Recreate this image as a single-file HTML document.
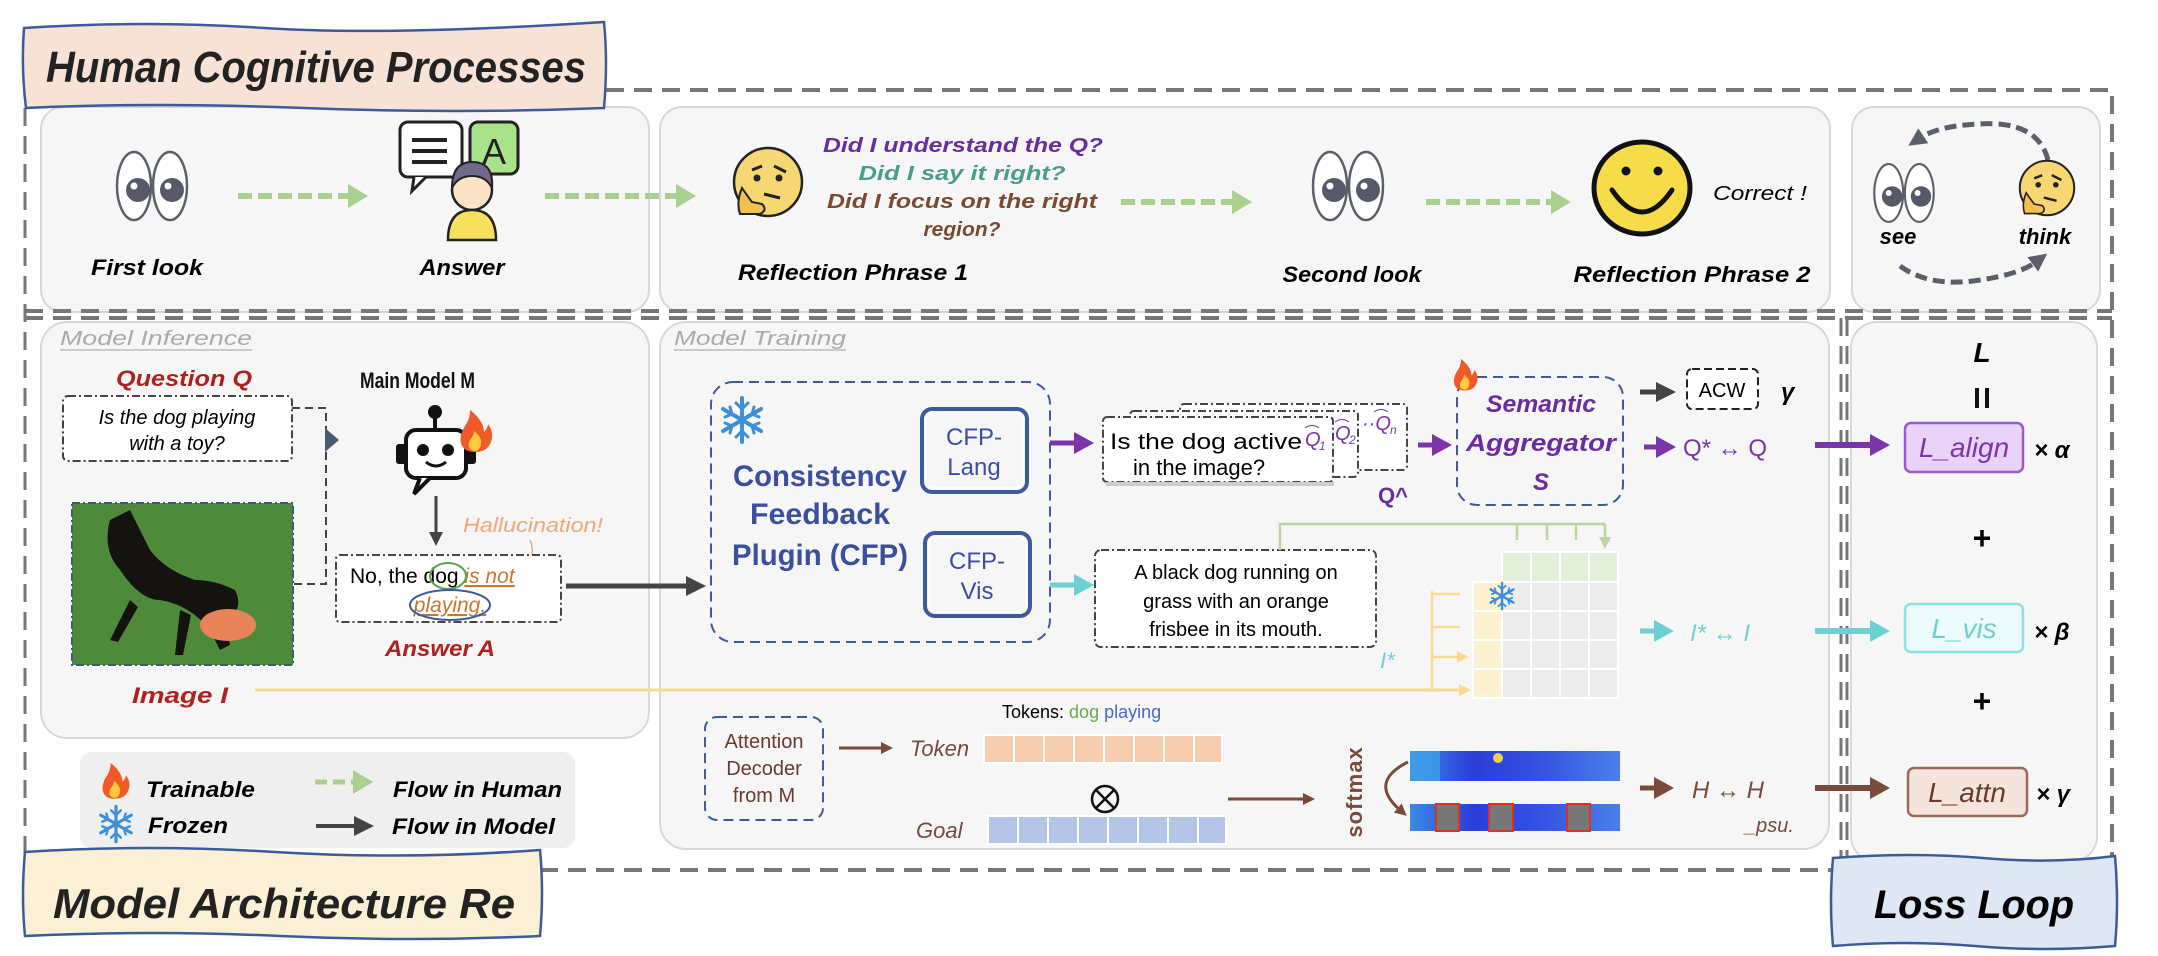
<!DOCTYPE html>
<html><head><meta charset="utf-8"><style>
html,body{margin:0;padding:0;background:#fff}
svg{display:block}
text{font-family:"Liberation Sans",sans-serif}
.h{font-weight:bold;font-style:italic}
</style></head><body>
<svg width="2158" height="956" viewBox="0 0 2158 956" xmlns="http://www.w3.org/2000/svg">
<defs>
<marker id="ag" markerWidth="20" markerHeight="24" refX="4" refY="12" orient="auto" markerUnits="userSpaceOnUse"><path d="M0,0 L20,12 L0,24 z" fill="#a9d08e"/></marker>
<marker id="ak" markerWidth="20" markerHeight="20" refX="6" refY="10" orient="auto" markerUnits="userSpaceOnUse"><path d="M0,0 L20,10 L0,20 z" fill="#444"/></marker>
<marker id="aks" markerWidth="14" markerHeight="14" refX="4" refY="7" orient="auto" markerUnits="userSpaceOnUse"><path d="M0,0 L14,7 L0,14 z" fill="#444"/></marker>
<marker id="ap" markerWidth="20" markerHeight="22" refX="6" refY="11" orient="auto" markerUnits="userSpaceOnUse"><path d="M0,0 L20,11 L0,22 z" fill="#7b35a8"/></marker>
<marker id="ac" markerWidth="20" markerHeight="22" refX="6" refY="11" orient="auto" markerUnits="userSpaceOnUse"><path d="M0,0 L20,11 L0,22 z" fill="#6fd0d4"/></marker>
<marker id="ab" markerWidth="20" markerHeight="22" refX="6" refY="11" orient="auto" markerUnits="userSpaceOnUse"><path d="M0,0 L20,11 L0,22 z" fill="#7a4a3a"/></marker>
<marker id="abs" markerWidth="12" markerHeight="12" refX="3" refY="6" orient="auto" markerUnits="userSpaceOnUse"><path d="M0,0 L12,6 L0,12 z" fill="#7a4a3a"/></marker>
<marker id="ay" markerWidth="12" markerHeight="12" refX="3" refY="6" orient="auto" markerUnits="userSpaceOnUse"><path d="M0,0 L12,6 L0,12 z" fill="#f7dc8f"/></marker>
<marker id="agr" markerWidth="12" markerHeight="12" refX="3" refY="6" orient="auto" markerUnits="userSpaceOnUse"><path d="M0,0 L12,6 L0,12 z" fill="#b9d6a0"/></marker>
<marker id="ad" markerWidth="18" markerHeight="18" refX="4" refY="9" orient="auto" markerUnits="userSpaceOnUse"><path d="M0,0 L18,9 L0,18 z" fill="#5a5f6a"/></marker>
<g id="eyes">
<ellipse cx="-18" cy="0" rx="17" ry="34" fill="#fff" stroke="#5a5f6a" stroke-width="2.5"/>
<ellipse cx="18" cy="0" rx="17" ry="34" fill="#fff" stroke="#5a5f6a" stroke-width="2.5"/>
<circle cx="-14" cy="4" r="12" fill="#55596a"/><circle cx="20" cy="4" r="12" fill="#55596a"/>
<circle cx="-18" cy="0" r="3.5" fill="#fff"/><circle cx="16" cy="0" r="3.5" fill="#fff"/>
</g>
<g id="think">
<circle cx="0" cy="0" r="34" fill="#f7d774" stroke="#222" stroke-width="2.5"/>
<path d="M-16,-12 l10,-4 M6,-16 l12,6" stroke="#222" stroke-width="3"/>
<circle cx="-11" cy="-4" r="3.5" fill="#222"/><circle cx="11" cy="-4" r="3.5" fill="#222"/>
<path d="M-4,12 l16,4" stroke="#222" stroke-width="3"/>
<path d="M-26,6 q-6,14 -2,26 l20,0 q8,-4 2,-10 l-10,-2 q-6,-8 -10,-14z" fill="#f2c14e" stroke="#222" stroke-width="2"/>
</g>
<g id="fire">
<path d="M0,22 c-12,0 -16,-10 -12,-20 c3,-8 8,-10 8,-22 c8,6 14,14 14,22 c3,-3 4,-6 4,-8 c4,6 6,12 2,20 c-3,6 -8,8 -16,8z" fill="#f05a28"/>
<path d="M1,21 c-6,0 -8,-6 -5,-11 c2,-3 4,-5 4,-9 c5,4 8,8 7,13 c-1,5 -3,7 -6,7z" fill="#ffc93c"/>
</g>
<g id="snow" stroke="#3d8fd6" stroke-width="4" stroke-linecap="round" fill="none">
<path d="M0,-22 V22 M-19,-11 L19,11 M-19,11 L19,-11"/>
<path d="M-6,-17 L0,-11 L6,-17 M-6,17 L0,11 L6,17 M-17,-3 L-10,-6 L-12,-13 M17,3 L10,6 L12,13 M-17,3 L-10,6 L-12,13 M17,-3 L10,-6 L12,-13" stroke-width="3"/>
</g>
</defs>

<path d="M606,90 H2112 V878" fill="none" stroke="#777" stroke-width="4" stroke-dasharray="18,10"/>
<path d="M25,108 V868" fill="none" stroke="#777" stroke-width="3" stroke-dasharray="18,10"/>
<path d="M540,870 H1835" fill="none" stroke="#777" stroke-width="4" stroke-dasharray="18,10"/>

<rect x="41" y="107" width="608" height="205" rx="22" fill="#f6f6f6" stroke="#d8d8d8" stroke-width="2"/>
<rect x="660" y="107" width="1170" height="205" rx="22" fill="#f6f6f6" stroke="#d8d8d8" stroke-width="2"/>
<rect x="1852" y="107" width="248" height="205" rx="22" fill="#f6f6f6" stroke="#d8d8d8" stroke-width="2"/>
<rect x="41" y="322" width="608" height="416" rx="26" fill="#f6f6f6" stroke="#d8d8d8" stroke-width="2"/>
<rect x="660" y="322" width="1169" height="527" rx="26" fill="#f6f6f6" stroke="#d8d8d8" stroke-width="2"/>
<rect x="1851" y="322" width="246" height="540" rx="26" fill="#f6f6f6" stroke="#d8d8d8" stroke-width="2"/>
<path d="M25,311 H2112 M25,318 H2112" stroke="#777" stroke-width="4" stroke-dasharray="18,10"/>
<path d="M1841,318 V870 M1847,318 V870" stroke="#777" stroke-width="3" stroke-dasharray="18,10"/>

<path d="M24,28 q120,-8 240,0 t340,-6 q4,40 0,86 q-150,6 -300,0 t-278,0 q-5,-40 -2,-80z" fill="#f7e3d6" stroke="#3d5a9a" stroke-width="2.5"/>
<text x="46" y="82" class="h" font-size="44" fill="#222" textLength="540" lengthAdjust="spacingAndGlyphs">Human Cognitive Processes</text>

<use href="#eyes" x="152" y="186"/>
<text x="147" y="275" class="h" font-size="22" text-anchor="middle" textLength="112" lengthAdjust="spacingAndGlyphs">First look</text>
<path d="M238,196 H352" stroke="#a9d08e" stroke-width="6" stroke-dasharray="14,6" marker-end="url(#ag)"/>
<g>
<rect x="400" y="122" width="62" height="55" rx="8" fill="#fff" stroke="#222" stroke-width="3"/>
<path d="M414,177 l-2,14 l14,-14" fill="#fff" stroke="#222" stroke-width="3"/>
<rect x="470" y="122" width="48" height="52" rx="8" fill="#a8e38a" stroke="#222" stroke-width="3"/>
<text x="494" y="164" font-size="36" text-anchor="middle" fill="#222">A</text>
<path d="M412,140 h35 M412,151 h35 M412,162 h35" stroke="#222" stroke-width="4"/>
<circle cx="472" cy="190" r="20" fill="#fde3c6" stroke="#222" stroke-width="2.5"/>
<path d="M452,188 q0,-26 20,-26 q22,0 20,26 q-6,-12 -20,-12 q-14,0 -20,12z" fill="#6f6a8c" stroke="#222" stroke-width="2"/>
<path d="M448,240 q0,-30 24,-30 q24,0 24,30z" fill="#f6e05e" stroke="#222" stroke-width="2.5"/>
</g>
<text x="462" y="275" class="h" font-size="22" text-anchor="middle" textLength="85" lengthAdjust="spacingAndGlyphs">Answer</text>
<path d="M545,196 H680" stroke="#a9d08e" stroke-width="6" stroke-dasharray="14,6" marker-end="url(#ag)"/>
<use href="#think" x="768" y="182"/>
<text x="963" y="152" class="h" font-size="20" fill="#6a2c9e" text-anchor="middle" textLength="280" lengthAdjust="spacingAndGlyphs">Did I understand the Q?</text>
<text x="962" y="180" class="h" font-size="20" fill="#4a9c8c" text-anchor="middle" textLength="207" lengthAdjust="spacingAndGlyphs">Did I say it right?</text>
<text x="962" y="208" class="h" font-size="20" fill="#7a4a2e" text-anchor="middle" textLength="270" lengthAdjust="spacingAndGlyphs">Did I focus on the right</text>
<text x="962" y="236" class="h" font-size="20" fill="#7a4a2e" text-anchor="middle" textLength="77" lengthAdjust="spacingAndGlyphs">region?</text>
<text x="853" y="280" class="h" font-size="22" text-anchor="middle" textLength="230" lengthAdjust="spacingAndGlyphs">Reflection Phrase 1</text>
<path d="M1121,202 H1236" stroke="#a9d08e" stroke-width="6" stroke-dasharray="14,6" marker-end="url(#ag)"/>
<use href="#eyes" x="1348" y="186"/>
<text x="1352" y="282" class="h" font-size="22" text-anchor="middle" textLength="139" lengthAdjust="spacingAndGlyphs">Second look</text>
<path d="M1426,202 H1555" stroke="#a9d08e" stroke-width="6" stroke-dasharray="14,6" marker-end="url(#ag)"/>
<ellipse cx="1642" cy="188" rx="48" ry="46" fill="#f7dc4a" stroke="#111" stroke-width="5"/>
<circle cx="1626" cy="171" r="4.5" fill="#111"/><circle cx="1658" cy="171" r="4.5" fill="#111"/>
<path d="M1612,190 q30,44 60,0" fill="none" stroke="#111" stroke-width="5" stroke-linecap="round"/>
<text x="1713" y="200" font-style="italic" font-size="20" textLength="94" lengthAdjust="spacingAndGlyphs">Correct !</text>
<text x="1692" y="282" class="h" font-size="22" text-anchor="middle" textLength="237" lengthAdjust="spacingAndGlyphs">Reflection Phrase 2</text>
<path d="M2048,160 q-10,-40 -70,-36 q-40,2 -58,14" fill="none" stroke="#5a5f6a" stroke-width="5" stroke-dasharray="12,6" marker-end="url(#ad)"/>
<path d="M1900,266 q30,22 80,14 q40,-6 56,-18" fill="none" stroke="#5a5f6a" stroke-width="5" stroke-dasharray="12,6" marker-end="url(#ad)"/>
<g transform="translate(1904,193) scale(0.85)"><use href="#eyes"/></g>
<g transform="translate(2047,188) scale(0.8)"><use href="#think"/></g>
<text x="1898" y="244" class="h" font-size="22" text-anchor="middle">see</text>
<text x="2045" y="244" class="h" font-size="22" text-anchor="middle">think</text>

<text x="60" y="345" font-style="italic" font-size="20" fill="#aaa" textLength="192" lengthAdjust="spacingAndGlyphs">Model Inference</text>
<path d="M60,350 H252" stroke="#bbb" stroke-width="1.5"/>
<text x="116" y="386" class="h" font-size="22" fill="#b02020" textLength="136" lengthAdjust="spacingAndGlyphs">Question Q</text>
<text x="360" y="388" font-weight="bold" font-size="22" fill="#111" textLength="115" lengthAdjust="spacingAndGlyphs">Main Model M</text>
<rect x="63" y="396" width="229" height="65" rx="5" fill="#fff" stroke="#444" stroke-width="2" stroke-dasharray="8,3,2,3"/>
<text x="177" y="424" font-style="italic" font-size="20" text-anchor="middle">Is the dog playing</text>
<text x="177" y="450" font-style="italic" font-size="20" text-anchor="middle">with a toy?</text>
<path d="M292,408 H326 V584 H293" fill="none" stroke="#444" stroke-width="2" stroke-dasharray="8,5"/>
<path d="M325,428 L339,440 L325,452z" fill="#4a5a70"/>
<g>
<circle cx="435" cy="412" r="7" fill="#111"/><path d="M435,418 V430" stroke="#111" stroke-width="4"/>
<rect x="406" y="430" width="60" height="48" rx="10" fill="#fff" stroke="#111" stroke-width="4"/>
<rect x="396" y="444" width="10" height="20" rx="3" fill="#111"/><rect x="466" y="444" width="10" height="20" rx="3" fill="#111"/>
<circle cx="423" cy="450" r="6" fill="#111"/><circle cx="448" cy="450" r="6" fill="#111"/>
<path d="M426,462 q10,8 20,0" fill="none" stroke="#111" stroke-width="3"/>
<path d="M420,478 l-6,16 l16,-16" fill="#fff" stroke="#111" stroke-width="4"/>
</g>
<use href="#fire" x="474" y="430"/>
<path d="M436,496 V536" stroke="#444" stroke-width="3" marker-end="url(#aks)"/>
<text x="463" y="532" font-style="italic" font-size="20" fill="#f0a878" textLength="140" lengthAdjust="spacingAndGlyphs">Hallucination!</text>
<path d="M530,540 q6,14 -4,30" fill="none" stroke="#f0a878" stroke-width="1.5"/>
<rect x="72" y="503" width="221" height="162" fill="#4f8a3a"/>
<rect x="72" y="503" width="221" height="162" fill="none" stroke="#3a5a7a" stroke-width="2" stroke-dasharray="8,3,2,3"/>
<path d="M110,520 q-8,30 10,50 q20,30 40,30 q30,5 50,30 l10,20 l10,-5 l-5,-25 q20,-10 10,-30 q-20,-10 -40,-10 q-30,-10 -45,-30 q-10,-20 -20,-40z" fill="#15130f"/>
<path d="M130,600 l-20,40 l8,2 l20,-35z M180,610 l-5,45 l8,0 l8,-40z" fill="#15130f"/>
<ellipse cx="228" cy="625" rx="28" ry="16" fill="#e8845a"/>
<text x="180" y="703" class="h" font-size="22" fill="#b02020" text-anchor="middle" textLength="96" lengthAdjust="spacingAndGlyphs">Image I</text>
<path d="M255,690 H1462" stroke="#f7dc8f" stroke-width="3" marker-end="url(#ay)"/>
<rect x="336" y="555" width="225" height="67" rx="4" fill="#fff" stroke="#444" stroke-width="2" stroke-dasharray="8,3,2,3"/>
<text x="350" y="583" font-size="21">No, the dog <tspan fill="#c8782c" font-style="italic" text-decoration="underline">is not</tspan></text>
<ellipse cx="448" cy="576" rx="18" ry="13" fill="none" stroke="#5aa34a" stroke-width="2"/>
<text x="450" y="612" font-size="21" fill="#c8782c" font-style="italic" text-anchor="middle" text-decoration="underline">playing.</text>
<ellipse cx="450" cy="605" rx="40" ry="15" fill="none" stroke="#3d5a9a" stroke-width="2"/>
<text x="440" y="656" class="h" font-size="22" fill="#b02020" text-anchor="middle" textLength="110" lengthAdjust="spacingAndGlyphs">Answer A</text>
<path d="M566,586 H692" stroke="#444" stroke-width="5" marker-end="url(#ak)"/>

<rect x="80" y="752" width="495" height="96" rx="12" fill="#efefef"/>
<g transform="translate(114,780) scale(0.85)"><use href="#fire"/></g>
<text x="146" y="797" class="h" font-size="22" textLength="109" lengthAdjust="spacingAndGlyphs">Trainable</text>
<g transform="translate(116,824) scale(0.8)"><use href="#snow"/></g>
<text x="148" y="833" class="h" font-size="22" textLength="80" lengthAdjust="spacingAndGlyphs">Frozen</text>
<path d="M315,782 H357" stroke="#a9d08e" stroke-width="5" stroke-dasharray="12,6" marker-end="url(#ag)"/>
<text x="393" y="797" class="h" font-size="22" textLength="169" lengthAdjust="spacingAndGlyphs">Flow in Human</text>
<path d="M316,826 H360" stroke="#444" stroke-width="4" marker-end="url(#ak)"/>
<text x="392" y="834" class="h" font-size="22" textLength="163" lengthAdjust="spacingAndGlyphs">Flow in Model</text>
<path d="M25,852 q120,-8 250,0 t265,-2 q4,42 0,86 q-130,6 -260,0 t-255,0 q-4,-40 0,-84z" fill="#fbf0d5" stroke="#3d5a9a" stroke-width="2.5"/>
<text x="53" y="918" class="h" font-size="42" fill="#222" textLength="462" lengthAdjust="spacingAndGlyphs">Model Architecture Re</text>

<text x="674" y="345" font-style="italic" font-size="20" fill="#aaa" textLength="172" lengthAdjust="spacingAndGlyphs">Model Training</text>
<path d="M674,350 H846" stroke="#bbb" stroke-width="1.5"/>
<rect x="711" y="382" width="339" height="260" rx="22" fill="none" stroke="#3d5a9a" stroke-width="2" stroke-dasharray="10,6"/>
<use href="#snow" x="742" y="420"/>
<g font-weight="bold" font-size="30" fill="#3a4f9e" text-anchor="middle">
<text x="820" y="486" textLength="174" lengthAdjust="spacingAndGlyphs">Consistency</text>
<text x="820" y="524" textLength="140" lengthAdjust="spacingAndGlyphs">Feedback</text>
<text x="820" y="565" textLength="176" lengthAdjust="spacingAndGlyphs">Plugin (CFP)</text>
</g>
<rect x="922" y="409" width="105" height="83" rx="10" fill="none" stroke="#3d5a9a" stroke-width="4"/>
<rect x="926" y="413" width="97" height="75" rx="8" fill="none" stroke="#fff" stroke-width="1.5"/>
<text x="974" y="445" font-size="24" fill="#3a4f9e" text-anchor="middle">CFP-</text>
<text x="974" y="475" font-size="24" fill="#3a4f9e" text-anchor="middle">Lang</text>
<rect x="925" y="533" width="105" height="83" rx="10" fill="none" stroke="#3d5a9a" stroke-width="4"/>
<rect x="929" y="537" width="97" height="75" rx="8" fill="none" stroke="#fff" stroke-width="1.5"/>
<text x="977" y="569" font-size="24" fill="#3a4f9e" text-anchor="middle">CFP-</text>
<text x="977" y="599" font-size="24" fill="#3a4f9e" text-anchor="middle">Vis</text>
<path d="M1050,443 H1080" stroke="#7b35a8" stroke-width="5" marker-end="url(#ap)"/>
<path d="M1050,585 H1080" stroke="#6fd0d4" stroke-width="5" marker-end="url(#ac)"/>
<rect x="1180" y="404" width="227" height="66" rx="4" fill="#fff" stroke="#444" stroke-width="2" stroke-dasharray="8,3,2,3"/>
<rect x="1130" y="411" width="228" height="66" rx="4" fill="#fff" stroke="#444" stroke-width="2" stroke-dasharray="8,3,2,3"/>
<rect x="1103" y="417" width="230" height="65" rx="4" fill="#fff" stroke="#444" stroke-width="2" stroke-dasharray="8,3,2,3"/>
<rect x="1106" y="482" width="228" height="4" fill="#ccc"/>
<text x="1110" y="449" font-size="22" textLength="192" lengthAdjust="spacingAndGlyphs">Is the dog active</text>
<text x="1133" y="475" font-size="22">in the image?</text>
<g font-family="Liberation Serif" font-style="italic" font-size="20" fill="#7b35a8">
<text x="1305" y="446">Q</text><text x="1319" y="450" font-size="12">1</text>
<text x="1335" y="440">Q</text><text x="1349" y="444" font-size="12">2</text>
<text x="1362" y="430">··Q</text><text x="1390" y="434" font-size="12">n</text>
<path d="M1305,428 q7,-5 14,0 M1335,422 q7,-5 14,0 M1374,412 q7,-5 14,0" fill="none" stroke="#7b35a8" stroke-width="1"/>
</g>
<text x="1378" y="503" font-weight="bold" font-size="22" fill="#6a2c9e">Q^</text>
<path d="M1418,445 H1438" stroke="#7b35a8" stroke-width="5" marker-end="url(#ap)"/>
<rect x="1457" y="377" width="166" height="128" rx="20" fill="none" stroke="#3d5a9a" stroke-width="2" stroke-dasharray="10,6"/>
<g transform="translate(1464,374) scale(0.75)"><use href="#fire"/></g>
<g class="h" font-size="24" fill="#6a2c9e" text-anchor="middle">
<text x="1541" y="412" textLength="110" lengthAdjust="spacingAndGlyphs">Semantic</text>
<text x="1541" y="451" textLength="150" lengthAdjust="spacingAndGlyphs">Aggregator</text>
<text x="1541" y="490">S</text>
</g>
<path d="M1640,392 H1662" stroke="#444" stroke-width="5" marker-end="url(#ak)"/>
<rect x="1687" y="369" width="71" height="40" rx="5" fill="#fff" stroke="#222" stroke-width="2" stroke-dasharray="8,4"/>
<text x="1722" y="397" font-size="20" text-anchor="middle">ACW</text>
<text x="1781" y="400" class="h" font-size="24">γ</text>
<path d="M1644,447 H1662" stroke="#7b35a8" stroke-width="5" marker-end="url(#ap)"/>
<text x="1683" y="456" font-size="24" fill="#7b35a8">Q* ↔ Q</text>
<path d="M1815,445 H1876" stroke="#7b35a8" stroke-width="6" marker-end="url(#ap)"/>
<rect x="1095" y="550" width="281" height="97" rx="6" fill="#fff" stroke="#444" stroke-width="2" stroke-dasharray="8,3,2,3"/>
<g font-size="20" text-anchor="middle"><text x="1236" y="579">A black dog running on</text><text x="1236" y="608">grass with an orange</text><text x="1236" y="636">frisbee in its mouth.</text></g>
<path d="M1280,550 V524 H1605" fill="none" stroke="#b9d6a0" stroke-width="2.5"/>
<path d="M1517,524 V540 M1547,524 V540 M1576,524 V540 M1605,524 V540" stroke="#b9d6a0" stroke-width="2.5" marker-end="url(#agr)"/>
<g stroke="#fff" stroke-width="2">
<rect x="1502" y="552" width="29" height="30" fill="#e2efd9"/><rect x="1531" y="552" width="29" height="30" fill="#e2efd9"/><rect x="1560" y="552" width="29" height="30" fill="#e2efd9"/><rect x="1589" y="552" width="29" height="30" fill="#e2efd9"/>
<rect x="1473" y="582" width="29" height="29" fill="#fdf1d0"/><rect x="1473" y="611" width="29" height="29" fill="#fdf1d0"/><rect x="1473" y="640" width="29" height="29" fill="#fdf1d0"/><rect x="1473" y="669" width="29" height="29" fill="#fdf1d0"/>
<rect x="1502" y="582" width="116" height="116" fill="#ececec"/>
<path d="M1531,582 V698 M1560,582 V698 M1589,582 V698 M1502,611 H1618 M1502,640 H1618 M1502,669 H1618"/>
</g>
<g transform="translate(1502,596) scale(0.6)"><use href="#snow"/></g>
<path d="M1432,690 V591" fill="none" stroke="#f7dc8f" stroke-width="2.5"/>
<path d="M1432,594 H1460 M1432,627 H1460 M1432,657 H1460" stroke="#f7dc8f" stroke-width="2.5" marker-end="url(#ay)"/>
<text x="1380" y="668" font-style="italic" font-size="22" fill="#6fd0d4">I*</text>
<path d="M1640,631 H1660" stroke="#6fd0d4" stroke-width="5" marker-end="url(#ac)"/>
<text x="1690" y="641" font-style="italic" font-size="24" fill="#6fd0d4">I* ↔ I</text>
<path d="M1815,631 H1876" stroke="#6fd0d4" stroke-width="6" marker-end="url(#ac)"/>
<rect x="705" y="717" width="118" height="103" rx="12" fill="none" stroke="#3d5a9a" stroke-width="2" stroke-dasharray="10,6"/>
<g font-size="20" fill="#6a3a2a" text-anchor="middle"><text x="764" y="748">Attention</text><text x="764" y="775">Decoder</text><text x="764" y="802">from M</text></g>
<path d="M839,748 H884" stroke="#7a4a3a" stroke-width="3" marker-end="url(#abs)"/>
<text x="910" y="756" font-style="italic" font-size="22" fill="#7a4a3a">Token</text>
<g fill="#f6ceaf" stroke="#fff" stroke-width="2">
<rect x="984" y="735" width="30" height="28"/><rect x="1014" y="735" width="30" height="28"/><rect x="1044" y="735" width="30" height="28"/><rect x="1074" y="735" width="30" height="28"/><rect x="1104" y="735" width="30" height="28"/><rect x="1134" y="735" width="30" height="28"/><rect x="1164" y="735" width="30" height="28"/><rect x="1194" y="735" width="28" height="28"/>
</g>
<text x="1002" y="718" font-size="18">Tokens: <tspan fill="#6aaa4a">dog</tspan> <tspan fill="#4a6ac0">playing</tspan></text>
<circle cx="1105" cy="799" r="13" fill="none" stroke="#111" stroke-width="2.5"/>
<path d="M1096,790 L1114,808 M1114,790 L1096,808" stroke="#111" stroke-width="2.5"/>
<text x="916" y="838" font-style="italic" font-size="22" fill="#7a4a3a">Goal</text>
<g fill="#b4c6e7" stroke="#fff" stroke-width="2">
<rect x="988" y="816" width="30" height="28"/><rect x="1018" y="816" width="30" height="28"/><rect x="1048" y="816" width="30" height="28"/><rect x="1078" y="816" width="30" height="28"/><rect x="1108" y="816" width="30" height="28"/><rect x="1138" y="816" width="30" height="28"/><rect x="1168" y="816" width="30" height="28"/><rect x="1198" y="816" width="28" height="28"/>
</g>
<path d="M1228,799 H1306" stroke="#7a4a3a" stroke-width="3" marker-end="url(#abs)"/>
<text transform="translate(1362,792) rotate(-90)" font-size="22" fill="#7a4a3a" text-anchor="middle" font-weight="bold" letter-spacing="1">softmax</text>
<path d="M1408,762 q-40,20 -8,48" fill="none" stroke="#7a4a3a" stroke-width="3" marker-end="url(#abs)"/>
<defs><linearGradient id="hm" x1="0" x2="1"><stop offset="0" stop-color="#3a8ae8"/><stop offset="0.3" stop-color="#2a3ed8"/><stop offset="0.6" stop-color="#3450e0"/><stop offset="1" stop-color="#4a80e8"/></linearGradient></defs>
<rect x="1410" y="751" width="210" height="30" fill="url(#hm)"/>
<rect x="1410" y="751" width="30" height="30" fill="#3fa0e6" opacity="0.8"/>
<circle cx="1498" cy="758" r="5" fill="#e8d050"/>
<rect x="1410" y="804" width="210" height="27" fill="url(#hm)"/>
<g fill="#777" stroke="#e03020" stroke-width="2"><rect x="1436" y="804" width="23" height="27"/><rect x="1489" y="804" width="24" height="27"/><rect x="1567" y="804" width="23" height="27"/></g>
<path d="M1640,788 H1660" stroke="#7a4a3a" stroke-width="5" marker-end="url(#ab)"/>
<text x="1692" y="798" font-style="italic" font-size="24" fill="#7a4a3a">H ↔ H</text>
<text x="1745" y="832" font-style="italic" font-size="20" fill="#7a4a3a">_psu.</text>
<path d="M1815,788 H1876" stroke="#7a4a3a" stroke-width="6" marker-end="url(#ab)"/>

<text x="1982" y="362" class="h" font-size="28" text-anchor="middle">L</text>
<path d="M1977,388 V408 M1987,388 V408" stroke="#111" stroke-width="4"/>
<rect x="1905" y="423" width="118" height="49" rx="6" fill="#e8d2f8" stroke="#9b5ad0" stroke-width="2.5"/>
<text x="1964" y="457" font-style="italic" font-size="28" fill="#7b35a8" text-anchor="middle">L_align</text>
<text x="2034" y="458" class="h" font-size="24">× α</text>
<text x="1982" y="549" font-weight="bold" font-size="32" text-anchor="middle">+</text>
<rect x="1905" y="604" width="118" height="48" rx="6" fill="#ecfbfb" stroke="#8fe0e2" stroke-width="2.5"/>
<text x="1964" y="638" font-style="italic" font-size="28" fill="#6fd0d4" text-anchor="middle">L_vis</text>
<text x="2034" y="640" class="h" font-size="24">× β</text>
<text x="1982" y="712" font-weight="bold" font-size="32" text-anchor="middle">+</text>
<rect x="1908" y="768" width="119" height="48" rx="6" fill="#f4e4dc" stroke="#9a6a5a" stroke-width="2.5"/>
<text x="1967" y="802" font-style="italic" font-size="28" fill="#6a3a2a" text-anchor="middle">L_attn</text>
<text x="2036" y="802" class="h" font-size="24">× γ</text>
<path d="M1833,858 q80,-6 150,0 t132,-2 q4,46 0,90 q-70,6 -140,0 t-142,0 q-4,-44 0,-88z" fill="#dde8f4" stroke="#3d5a9a" stroke-width="2.5"/>
<text x="1974" y="918" class="h" font-size="40" text-anchor="middle" textLength="200" lengthAdjust="spacingAndGlyphs">Loss Loop</text>
</svg>
</body></html>
